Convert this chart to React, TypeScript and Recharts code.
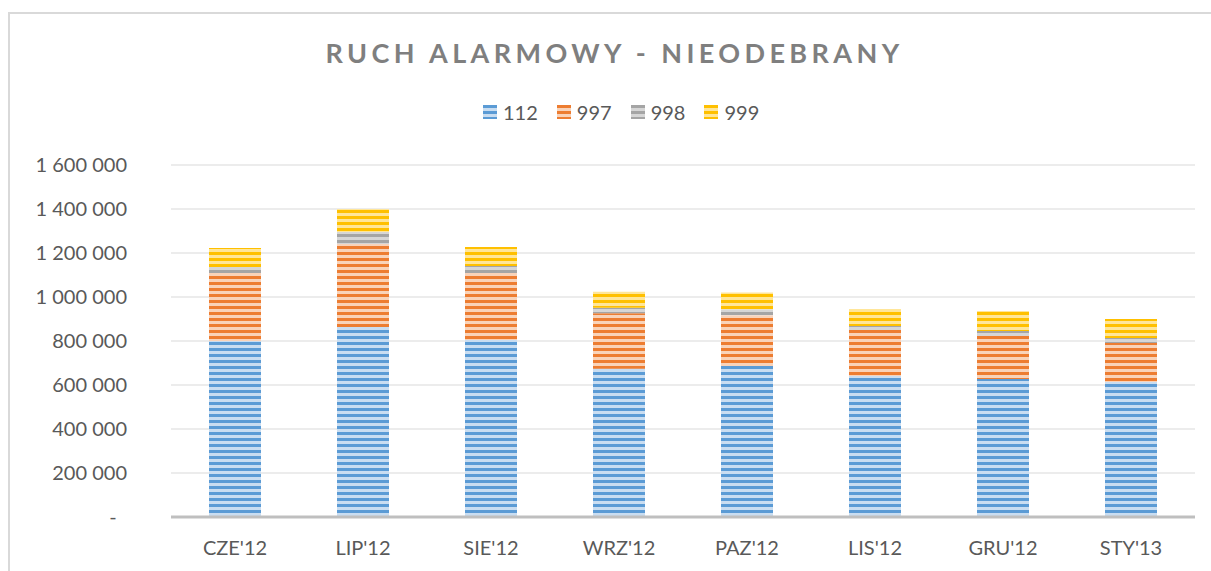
import { BarChart, Bar, XAxis, YAxis, CartesianGrid } from 'recharts'

const categories = ["CZE'12", "LIP'12", "SIE'12", "WRZ'12", "PAZ'12", "LIS'12", "GRU'12", "STY'13"]
const s112 = [800000, 864000, 805000, 674000, 686000, 641000, 627000, 614000]
const s997 = [309000, 377000, 304000, 252000, 231000, 209000, 196000, 177000]
const s998 = [27000, 54000, 32000, 25000, 27000, 18000, 22000, 23000]
const s999 = [87000, 105000, 86000, 73000, 77000, 77000, 91000, 86000]
const yTicks = [0, 200000, 400000, 600000, 800000, 1000000, 1200000, 1400000, 1600000]

const series = [
    { key: '112', dark: '#5b9bd5', light: '#c9ddf1' },
    { key: '997', dark: '#ed7d31', light: '#f9d3b9' },
    { key: '998', dark: '#a5a5a5', light: '#d6d6d6' },
    { key: '999', dark: '#ffc000', light: '#ffe699' },
]

const data = categories.map((name, i) => ({
    name,
    '112': s112[i],
    '997': s997[i],
    '998': s998[i],
    '999': s999[i],
}))

const font = 'Lato, sans-serif'
const textColor = '#595959'

const fmt = (v: number) => {
    if (v === 0) return '-\u00a0\u00a0'
    return v.toLocaleString('en-US').replace(/,/g, ' ')
}

function Patterns() {
    return (
        <svg width={0} height={0} style={{ position: 'absolute' }}>
            <defs>
                {series.map(s => (
                    <pattern key={s.key} id={'p' + s.key} width={6} height={6} patternUnits="userSpaceOnUse">
                        <rect x={0} y={0} width={6} height={6} fill={s.light} />
                        <rect x={0} y={0} width={6} height={3} fill={s.dark} />
                    </pattern>
                ))}
            </defs>
        </svg>
    )
}

export default function App() {
    return (
        <div style={{ position: 'relative', width: 1211, height: 571, overflow: 'hidden', fontFamily: font }}>
            <style>{'html, body { margin: 0; padding: 0; overflow: hidden; }'}</style>
            <Patterns />
            {/* chart frame: only top and left edges are inside the picture */}
            <div style={{ position: 'absolute', left: 8, top: 12, width: 1203, height: 2, background: '#d9d9d9' }} />
            <div style={{ position: 'absolute', left: 8, top: 12, width: 2, height: 559, background: '#d9d9d9' }} />
            <div style={{
                position: 'absolute', left: 8, top: 39, width: 1213, textAlign: 'center',
                fontSize: 27, lineHeight: '27px', fontWeight: 700, letterSpacing: 4.4, color: '#7f7f7f',
            }}>
                RUCH ALARMOWY - NIEODEBRANY
            </div>
            <div style={{
                position: 'absolute', left: 483, top: 102, display: 'flex', alignItems: 'center',
                fontSize: 20, lineHeight: '20px', color: textColor,
            }}>
                {series.map(s => (
                    <div key={s.key} style={{ display: 'flex', alignItems: 'center', marginRight: 19 }}>
                        <svg width={14} height={14} style={{ marginRight: 6 }}>
                            <rect width={14} height={14} fill={`url(#p${s.key})`} />
                        </svg>
                        <span>{s.key}</span>
                    </div>
                ))}
            </div>
            <div style={{ position: 'absolute', left: 0, top: 0 }}>
                <BarChart
                    width={1211}
                    height={571}
                    data={data}
                    margin={{ top: 165, right: 16, left: 0, bottom: 24 }}
                >
                    <CartesianGrid vertical={false} stroke="#d9d9d9" />
                    <XAxis
                        dataKey="name"
                        height={30}
                        tickLine={false}
                        tickSize={0}
                        tickMargin={24}
                        axisLine={{ stroke: '#bfbfbf', strokeWidth: 3 }}
                        tick={{ fill: textColor, fontSize: 20, fontFamily: font }}
                    />
                    <YAxis
                        width={171}
                        domain={[0, 1600000]}
                        ticks={yTicks}
                        tickFormatter={fmt}
                        axisLine={false}
                        tickLine={false}
                        tickSize={0}
                        tickMargin={44}
                        tick={{ fill: textColor, fontSize: 20, fontFamily: font }}
                    />
                    {series.map(s => (
                        <Bar key={s.key} dataKey={s.key} stackId="a" barSize={52} fill={`url(#p${s.key})`} isAnimationActive={false} />
                    ))}
                </BarChart>
            </div>
        </div>
    )
}
